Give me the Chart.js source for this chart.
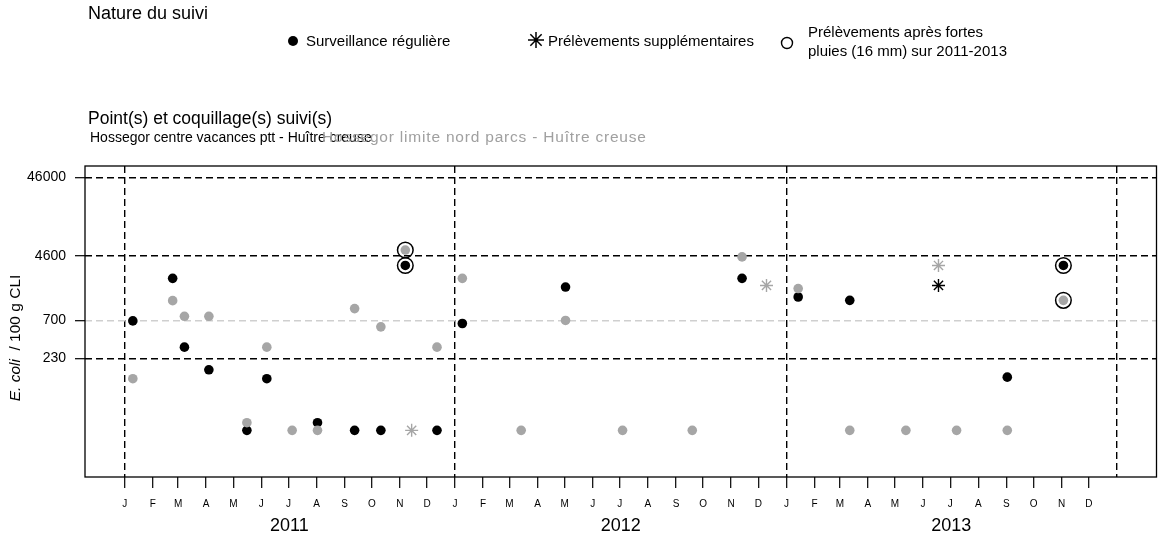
<!DOCTYPE html>
<html>
<head>
<meta charset="utf-8">
<script src="https://cdn.jsdelivr.net/npm/chart.js@4/dist/chart.umd.min.js"></script>
<style>
  html, body { margin: 0; padding: 0; background: #fff; }
  #wrap { width: 1158px; height: 535px; }
</style>
</head>
<body>
<div id="wrap"><canvas id="chart" width="1158" height="535"></canvas></div>
<script>
// Hossegor centre vacances ptt (black)
const centreDates = ['2011-01-10','2011-02-23','2011-03-08','2011-04-04','2011-05-16','2011-06-07','2011-08-02','2011-09-12','2011-10-11','2011-11-07','2011-12-12','2012-01-09','2012-05-02','2012-11-13','2013-01-14','2013-03-12','2013-06-18','2013-09-02','2013-11-03'];
const centreValues = [690, 2400, 320, 165, 28, 127, 35, 28, 28, 3500, 28, 640, 1860, 2400, 1390, 1260, 1950, 133, 3500];
// R = surveillance régulière, S = prélèvement supplémentaire, P = après fortes pluies
const centreKinds = ['R','R','R','R','R','R','R','R','R','P','R','R','R','R','R','R','S','R','P'];

// Hossegor limite nord parcs (grey)
const nordDates = ['2011-01-10','2011-02-23','2011-03-08','2011-04-04','2011-05-16','2011-06-07','2011-07-05','2011-08-02','2011-09-12','2011-10-11','2011-11-07','2011-11-14','2011-12-12','2012-01-09','2012-03-14','2012-05-02','2012-07-04','2012-09-19','2012-11-13','2012-12-10','2013-01-14','2013-03-12','2013-05-13','2013-06-18','2013-07-08','2013-09-02','2013-11-03'];
const nordValues = [127, 1250, 790, 790, 35, 320, 28, 28, 990, 580, 5500, 28, 320, 2400, 28, 700, 28, 28, 4500, 1950, 1780, 28, 28, 3500, 28, 28, 1260];
const nordKinds = ['R','R','R','R','R','R','R','R','R','R','P','S','R','R','R','R','R','R','R','S','R','R','R','S','R','R','P'];

const yTicks = [230, 700, 4600, 46000];
const monthLetters = ['J','F','M','A','M','J','J','A','S','O','N','D'];
const years = [2011, 2012, 2013];

const FONT = '"Liberation Sans", Arial, sans-serif';
const GREY = '#a6a6a6';

function points(dates, values, kinds, keep) {
    const out = [];
    dates.forEach((d, i) => {
        if (keep.includes(kinds[i])) out.push({ x: Date.parse(d + 'T00:00:00Z'), y: values[i] });
    });
    return out;
}

const xStart = Date.UTC(years[0], 0, 1);
const xEnd = Date.UTC(years[years.length - 1] + 1, 0, 1);
const xPad = (xEnd - xStart) * 0.04;

const decor = {
    id: 'decor',
    afterDraw(chart) {
        const ctx = chart.ctx;
        const a = chart.chartArea;
        ctx.save();
        // box
        ctx.strokeStyle = '#000';
        ctx.lineWidth = 1.3;
        ctx.strokeRect(a.left, a.top, a.right - a.left, a.bottom - a.top);

        // years
        const xs = chart.scales.x;
        ctx.fillStyle = '#000';
        ctx.font = '18px ' + FONT;
        ctx.textAlign = 'center';
        ctx.textBaseline = 'middle';
        years.forEach(y => {
            ctx.fillText(String(y), xs.getPixelForValue(Date.UTC(y, 6, 2)), 526);
        });

        // y title
        ctx.save();
        ctx.translate(16, 338);
        ctx.rotate(-Math.PI / 2);
        ctx.textAlign = 'left';
        ctx.font = 'italic 15.5px ' + FONT;
        const p1 = 'E. coli';
        const w1 = ctx.measureText(p1).width;
        ctx.font = '15.5px ' + FONT;
        const p2 = '  / 100 g CLI';
        const w2 = ctx.measureText(p2).width;
        const x0 = -(w1 + w2) / 2;
        ctx.font = 'italic 15.5px ' + FONT;
        ctx.fillText(p1, x0, 0);
        ctx.font = '15.5px ' + FONT;
        ctx.fillText(p2, x0 + w1, 0);
        ctx.restore();

        // header
        ctx.textAlign = 'left';
        ctx.textBaseline = 'middle';
        ctx.font = '18px ' + FONT;
        ctx.fillText('Nature du suivi', 88, 14);
        ctx.font = '17.5px ' + FONT;
        ctx.fillText('Point(s) et coquillage(s) suivi(s)', 88, 119);

        ctx.font = '15px ' + FONT;
        ctx.beginPath();
        ctx.arc(293, 41, 5, 0, Math.PI * 2);
        ctx.fill();
        ctx.fillText('Surveillance régulière', 306, 42);

        ctx.lineWidth = 1.5;
        ctx.beginPath();
        const r = 8;
        for (let k = 0; k < 4; k++) {
            const ang = k * Math.PI / 4;
            ctx.moveTo(536 - r * Math.cos(ang), 40 - r * Math.sin(ang));
            ctx.lineTo(536 + r * Math.cos(ang), 40 + r * Math.sin(ang));
        }
        ctx.stroke();
        ctx.fillText('Prélèvements supplémentaires', 548, 42);

        ctx.lineWidth = 1.4;
        ctx.beginPath();
        ctx.arc(787, 43, 5.5, 0, Math.PI * 2);
        ctx.stroke();
        ctx.fillText('Prélèvements après fortes', 808, 33);
        ctx.fillText('pluies (16 mm) sur 2011-2013', 808, 52);

        ctx.font = '14px ' + FONT;
        ctx.fillText('Hossegor centre vacances ptt - Huître creuse', 90, 138);
        ctx.fillStyle = '#a0a0a0';
        ctx.font = '15.5px ' + FONT;
        ctx.letterSpacing = '0.8px';
        ctx.fillText('Hossegor limite nord parcs - Huître creuse', 322, 138);
        ctx.letterSpacing = '0px';
        ctx.restore();
    }
};

new Chart(document.getElementById('chart'), {
    type: 'scatter',
    data: {
        datasets: [
            {
                data: points(centreDates, centreValues, centreKinds, ['R', 'P']),
                pointStyle: 'circle', pointRadius: 4.8, backgroundColor: '#000', borderColor: '#000', borderWidth: 0, order: 4
            },
            {
                data: points(nordDates, nordValues, nordKinds, ['R', 'P']),
                pointStyle: 'circle', pointRadius: 4.8, backgroundColor: GREY, borderColor: GREY, borderWidth: 0, order: 3
            },
            {
                data: points(centreDates, centreValues, centreKinds, ['S']),
                pointStyle: 'star', pointRadius: 6.5, borderColor: '#000', borderWidth: 1.4, order: 2
            },
            {
                data: points(nordDates, nordValues, nordKinds, ['S']),
                pointStyle: 'star', pointRadius: 6.5, borderColor: GREY, borderWidth: 1.4, order: 1
            },
            {
                data: points(centreDates, centreValues, centreKinds, ['P']).concat(points(nordDates, nordValues, nordKinds, ['P'])),
                pointStyle: 'circle', pointRadius: 7.8, backgroundColor: 'rgba(0,0,0,0)', borderColor: '#000', borderWidth: 1.5, order: 0
            }
        ]
    },
    options: {
        responsive: false,
        devicePixelRatio: 1,
        animation: false,
        layout: { autoPadding: false, padding: { top: 166, right: 1.5, left: 0, bottom: 0 } },
        plugins: { legend: { display: false }, tooltip: { enabled: false } },
        scales: {
            x: {
                type: 'linear',
                min: xStart - xPad,
                max: xEnd + xPad,
                afterBuildTicks: s => {
                    const t = [];
                    years.forEach(y => { for (let m = 0; m < 12; m++) t.push({ value: Date.UTC(y, m, 1) }); });
                    t.push({ value: xEnd });
                    s.ticks = t;
                },
                afterFit: s => { s.height = 58; s.paddingLeft = 0; s.paddingRight = 0; },
                border: { display: false, dash: [7, 4] },
                grid: {
                    lineWidth: 1.4,
                    color: c => (c.tick && new Date(c.tick.value).getUTCMonth() === 0) ? '#000' : 'rgba(0,0,0,0)',
                    tickColor: c => c.index >= 36 ? 'rgba(0,0,0,0)' : '#000',
                    tickWidth: 1.2,
                    tickLength: 11
                },
                ticks: {
                    autoSkip: false,
                    maxRotation: 0,
                    padding: 10,
                    color: '#000',
                    font: { family: FONT, size: 10 },
                    callback: (v, i) => i < 36 ? monthLetters[i % 12] : ''
                }
            },
            y: {
                type: 'logarithmic',
                min: 7.14,
                max: 64450,
                afterBuildTicks: s => { s.ticks = yTicks.map(v => ({ value: v })); },
                afterFit: s => { s.width = 85; },
                border: { display: false, dash: [7, 4] },
                grid: {
                    lineWidth: 1.4,
                    color: c => (c.tick && c.tick.value === 700) ? '#cfcfcf' : '#000',
                    tickColor: '#000',
                    tickWidth: 1.2,
                    tickLength: 10
                },
                ticks: {
                    padding: 9,
                    color: '#000',
                    font: { family: FONT, size: 14 },
                    callback: v => String(v)
                }
            }
        }
    },
    plugins: [decor]
});
</script>
</body>
</html>
